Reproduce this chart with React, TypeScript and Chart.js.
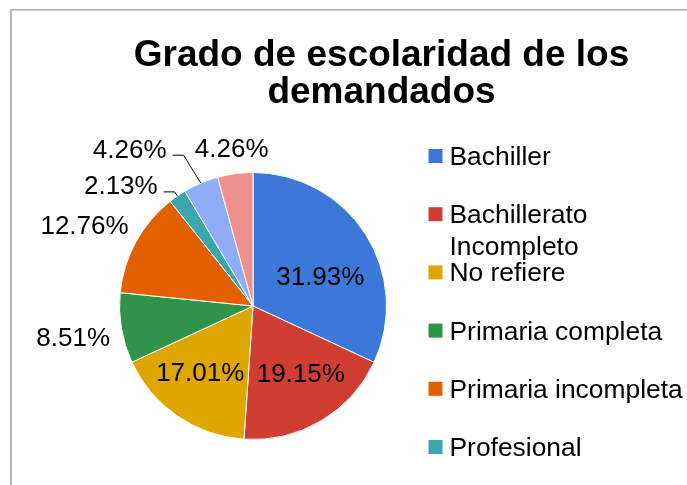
import React, { useEffect, useRef } from "react";
import { Chart, registerables } from "chart.js";

Chart.register(...registerables);

const categories = [
  "Bachiller",
  "Bachillerato Incompleto",
  "No refiere",
  "Primaria completa",
  "Primaria incompleta",
  "Profesional",
  "Técnico",
  "Tecnólogo",
];
const percentages = [31.93, 19.15, 17.01, 8.51, 12.76, 2.13, 4.26, 4.26];
const sliceColors = [
  "#3b78d8",
  "#cf3d33",
  "#dfa600",
  "#2f9449",
  "#e26000",
  "#3ba6ae",
  "#8fadf7",
  "#ee918c",
];
const titleLines = ["Grado de escolaridad de los", "demandados"];

const FONT = '"Liberation Sans", Arial, Helvetica, sans-serif';

// label placement per slice: distance as a factor of the radius, angular shift in degrees
const labelPlacement = [
  { d: 0.552, da: 8.5, leader: false },
  { d: 0.612, da: -5.2, leader: false },
  { d: 0.631, da: 4.3, leader: false },
  { d: 1.366, da: 0, leader: false },
  { d: 1.403, da: -2.8, leader: false },
  { d: 1.343, da: -13, leader: true },
  { d: 1.5, da: -15, leader: true },
  { d: 1.198, da: 0, leader: false },
];

const decorPlugin = {
  id: "decor",
  beforeDraw(chart: any) {
    const ctx = chart.ctx;
    ctx.save();
    ctx.fillStyle = "#ffffff";
    ctx.fillRect(0, 0, chart.width, chart.height);
    ctx.fillStyle = "#a9a9a9";
    ctx.fillRect(10, 9, chart.width - 10, 1.5);
    ctx.fillStyle = "#b6b6b6";
    ctx.fillRect(10, 9, 2, chart.height - 9);
    ctx.restore();
  },
  afterDraw(chart: any) {
    const ctx = chart.ctx;
    ctx.save();
    // Title
    ctx.fillStyle = "#000000";
    ctx.font = `bold 37px ${FONT}`;
    ctx.textAlign = "center";
    ctx.textBaseline = "alphabetic";
    titleLines.forEach((line, i) => {
      ctx.fillText(line, 381.5, 66 + i * 36.5);
    });

    // Legend
    const labels: string[] = chart.data.labels;
    const colors: string[] = chart.data.datasets[0].backgroundColor;
    ctx.font = `26.4px ${FONT}`;
    ctx.textAlign = "left";
    const maxW = 238;
    labels.forEach((lab, i) => {
      const cy = 156 + i * 58.2;
      ctx.fillStyle = colors[i];
      ctx.fillRect(428.5, cy - 7, 14, 14);
      ctx.fillStyle = "#000000";
      const words = lab.split(" ");
      const lines: string[] = [];
      let cur = "";
      words.forEach((w) => {
        const test = cur ? cur + " " + w : w;
        if (cur && ctx.measureText(test).width > maxW) {
          lines.push(cur);
          cur = w;
        } else cur = test;
      });
      if (cur) lines.push(cur);
      lines.forEach((ln, j) => ctx.fillText(ln, 449.5, cy + 9 + j * 32));
    });

    // Data labels
    const meta = chart.getDatasetMeta(0);
    const values: number[] = chart.data.datasets[0].data;
    ctx.font = `26px ${FONT}`;
    ctx.textAlign = "center";
    meta.data.forEach((arc: any, i: number) => {
      const p = labelPlacement[i];
      const { x, y, startAngle, endAngle, outerRadius } = arc.getProps(
        ["x", "y", "startAngle", "endAngle", "outerRadius"],
        true
      );
      const mid = (startAngle + endAngle) / 2;
      const a = mid + (p.da * Math.PI) / 180;
      const lx = x + Math.cos(a) * outerRadius * p.d;
      const ly = y + Math.sin(a) * outerRadius * p.d;
      const text = values[i].toFixed(2) + "%";
      ctx.fillStyle = "#000000";
      ctx.fillText(text, lx, ly + 9.5);
      if (p.leader) {
        const tw = ctx.measureText(text).width;
        const sx = lx + tw / 2 + 6;
        const sy = ly + 7;
        const ex = x + Math.cos(mid) * outerRadius;
        const ey = y + Math.sin(mid) * outerRadius;
        ctx.strokeStyle = "#000000";
        ctx.lineWidth = 1;
        ctx.beginPath();
        ctx.moveTo(sx, sy);
        ctx.lineTo(sx + 11, sy);
        ctx.lineTo(ex, ey);
        ctx.stroke();
      }
    });
    ctx.restore();
  },
};

export default function App() {
  const ref = useRef<HTMLCanvasElement | null>(null);
  useEffect(() => {
    if (!ref.current) return;
    const chart = new Chart(ref.current, {
      type: "pie",
      data: {
        labels: categories,
        datasets: [
          {
            data: percentages,
            backgroundColor: sliceColors,
            borderColor: "#ffffff",
            borderWidth: 1,
          },
        ],
      },
      options: {
        responsive: false,
        devicePixelRatio: 1,
        animation: false,
        layout: { padding: { left: 119, right: 300, top: 172, bottom: 45 } },
        plugins: {
          legend: { display: false },
          title: { display: false },
          tooltip: { enabled: false },
        },
      },
      plugins: [decorPlugin],
    });
    return () => chart.destroy();
  }, []);
  return (
    <div
      style={{
        position: "fixed",
        left: 0,
        top: 0,
        width: 687,
        height: 485,
        background: "#fff",
        overflow: "hidden",
      }}
    >
      <canvas
        ref={ref}
        width={687}
        height={485}
        style={{ display: "block", width: 687, height: 485 }}
      />
    </div>
  );
}
